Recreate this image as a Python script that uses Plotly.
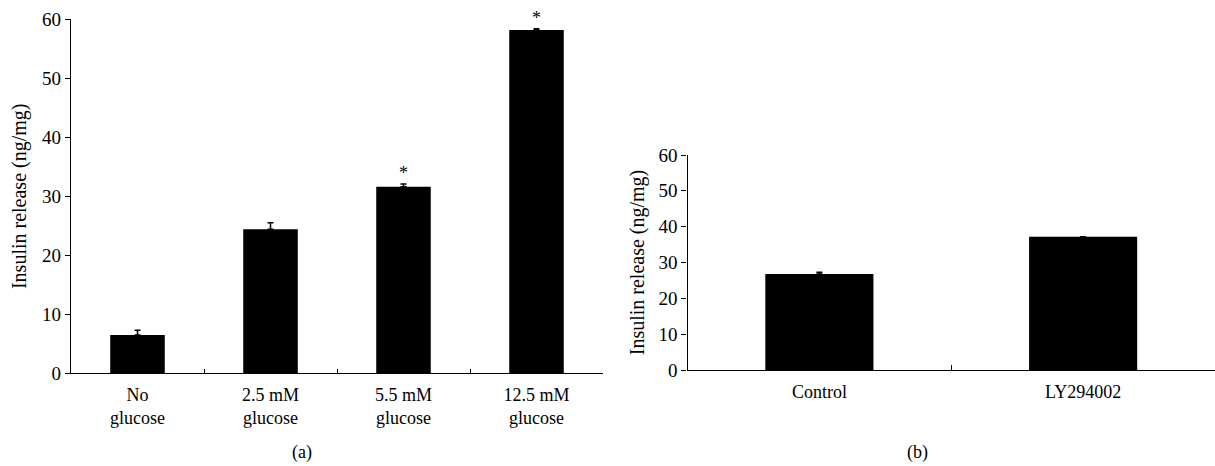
import plotly.graph_objects as go

# Panel (a)
cats_a = ["No<br>glucose", "2.5 mM<br>glucose", "5.5 mM<br>glucose", "12.5 mM<br>glucose"]
vals_a = [6.5, 24.4, 31.6, 58.2]
errs_a = [0.8, 1.1, 0.5, 0.2]
stars_a = ["", "", "*", "*"]

# Panel (b)
cats_b = ["Control", "LY294002"]
vals_b = [26.8, 37.2]
errs_b = [0.5, None]

yticks = [0, 10, 20, 30, 40, 50, 60]
ytitle = "Insulin release (ng/mg)"

FONT = "Liberation Serif"
W, H = 1215, 466

fig = go.Figure()

fig.add_trace(go.Bar(
    x=cats_a, y=vals_a, width=0.41, marker=dict(color="black", line=dict(width=0)),
    error_y=dict(type="data", array=errs_a, arrayminus=[0]*len(errs_a), symmetric=False,
                 color="black", thickness=1.5, width=3),
    xaxis="x", yaxis="y", showlegend=False))

star_y = [v + e for v, e in zip(vals_a, errs_a)]
fig.add_trace(go.Scatter(
    x=cats_a, y=star_y, mode="text", text=stars_a, textposition="top center",
    textfont=dict(family=FONT, size=18, color="black"),
    xaxis="x", yaxis="y", showlegend=False, cliponaxis=False))

fig.add_trace(go.Bar(
    x=cats_b, y=vals_b, width=0.41, marker=dict(color="black", line=dict(width=0)),
    error_y=dict(type="data", array=errs_b, arrayminus=[0, 0], symmetric=False,
                 color="black", thickness=1.5, width=3),
    xaxis="x2", yaxis="y2", showlegend=False))

def px_x(p):
    return p / W

def px_y(p):
    return (H - p) / H

axis_common = dict(showgrid=False, zeroline=False, showline=True, linecolor="black",
                   linewidth=1.3, automargin=False)
ytickfont = dict(family=FONT, size=19, color="black")
xtickfont = dict(family=FONT, size=18, color="black")
tfont = dict(family=FONT, size=20, color="black")

fig.update_layout(
    width=W, height=H, margin=dict(l=0, r=0, t=0, b=0),
    plot_bgcolor="white", paper_bgcolor="white",
    xaxis=dict(domain=[px_x(71), px_x(603)], anchor="y", ticks="inside", tickson="boundaries",
               ticklen=4, tickwidth=1, tickcolor="black", tickfont=xtickfont,
               ticklabelstandoff=5, **axis_common),
    yaxis=dict(domain=[px_y(373.3), px_y(19.3)], anchor="x", range=[0, 60], tickvals=yticks,
               ticks="outside", ticklen=5, tickwidth=1, tickcolor="black", tickfont=ytickfont,
               title=dict(text=ytitle, font=tfont, standoff=10),
               **axis_common),
    xaxis2=dict(domain=[px_x(687.5), 1.0], anchor="y2", ticks="inside", tickson="boundaries",
                ticklen=5, tickwidth=1, tickcolor="black", tickfont=xtickfont,
                ticklabelstandoff=5, **axis_common),
    yaxis2=dict(domain=[px_y(370), px_y(155)], anchor="x2", range=[0, 60], tickvals=yticks,
                ticks="outside", ticklen=5, tickwidth=1, tickcolor="black", tickfont=ytickfont,
                title=dict(text=ytitle, font=tfont, standoff=8),
                **axis_common),
    annotations=[
        dict(text="(a)", x=px_x(302), y=px_y(452), xref="paper", yref="paper",
             xanchor="center", yanchor="middle",
             showarrow=False, font=dict(family=FONT, size=18, color="black")),
        dict(text="(b)", x=px_x(917), y=px_y(452), xref="paper", yref="paper",
             xanchor="center", yanchor="middle",
             showarrow=False, font=dict(family=FONT, size=18, color="black")),
    ],
)

fig.write_html(
    "out.html",
    config={"displayModeBar": False},
    post_script="document.body.style.margin='0';document.body.style.overflow='hidden';",
)
